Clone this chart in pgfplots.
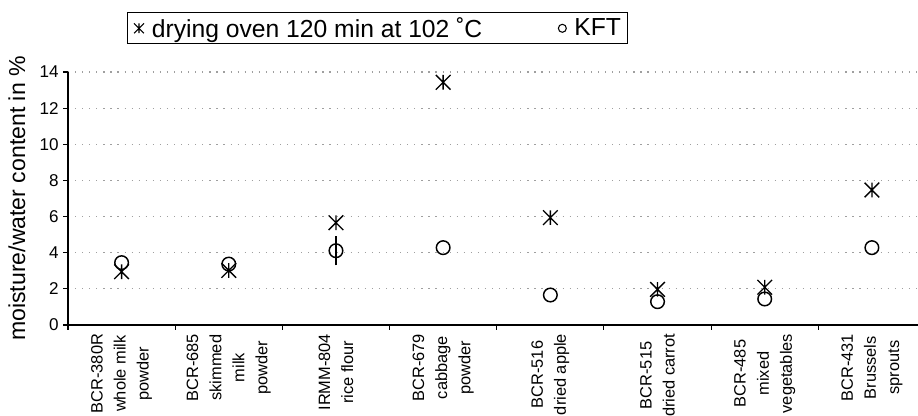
\documentclass[border=0pt]{standalone}
\usepackage{fontspec}
\setmainfont{Liberation Sans}
\usepackage{pgfplots}
\usepackage{pgfplotstable}
\pgfplotsset{compat=1.18}
\pgfdeclareplotmark{xstar}{%
  \pgfpathmoveto{\pgfqpoint{0pt}{-\pgfplotmarksize}}%
  \pgfpathlineto{\pgfqpoint{0pt}{\pgfplotmarksize}}%
  \pgfpathmoveto{\pgfqpoint{-\pgfplotmarksize}{-\pgfplotmarksize}}%
  \pgfpathlineto{\pgfqpoint{\pgfplotmarksize}{\pgfplotmarksize}}%
  \pgfpathmoveto{\pgfqpoint{-\pgfplotmarksize}{\pgfplotmarksize}}%
  \pgfpathlineto{\pgfqpoint{\pgfplotmarksize}{-\pgfplotmarksize}}%
  \pgfusepathqstroke}
\pgfplotstableread{
x oven kft
0 2.95 3.45
1 3.02 3.37
2 5.66 4.11
3 13.43 4.28
4 5.94 1.66
5 1.97 1.29
6 2.09 1.44
7 7.47 4.28
}\datatab
\begin{document}
\begin{tikzpicture}
\begin{axis}[
  at={(51pt,68.25pt)}, anchor=south west,
  scale only axis, width=637.5pt, height=189.75pt,
  xmin=-0.5, xmax=7.43, ymin=0, ymax=14,
  axis x line*=bottom, axis y line*=left,
  axis line style={-, line width=0.9pt},
  xtick={-0.5,0.5,...,6.5}, xticklabels={},
  extra x ticks={0,1,2,3,4,5,6,7},
  extra x tick labels={{BCR-380R\\whole milk\\powder},{BCR-685\\skimmed\\milk\\powder},{IRMM-804\\rice flour},{BCR-679\\cabbage\\powder},{BCR-516\\dried apple},{BCR-515\\dried carrot},{BCR-485\\mixed\\vegetables},{BCR-431\\Brussels\\sprouts}},
  extra x tick style={major tick length=0pt},
  xticklabel style={rotate=90, anchor=east, align=center, font=\fontsize{12.3}{17.3}\selectfont, inner xsep=6.5pt, inner ysep=1pt},
  ytick={0,2,...,14},
  yticklabel style={font=\fontsize{12.8}{14}\selectfont},
  /pgf/number format/assume math mode=true,
  tick align=outside, major tick length=3.5pt,
  tick style={black, line width=0.8pt},
  ymajorgrids, grid style={dash pattern=on 0.9pt off 4.4pt, gray!75, line width=0.9pt},
  ylabel={moisture/water content in \%},
  ylabel style={at={(axis description cs:-0.06,0.5)}, anchor=center, font=\fontsize{17.3}{20}\selectfont},
  legend columns=2,
  legend style={at={(axis description cs:0.3641,1.1727)}, anchor=center, draw=black, line width=0.8pt,
    font=\fontsize{18.5}{20}\selectfont, inner xsep=5pt, inner ysep=3.3pt,
    nodes={inner sep=0pt},
    /tikz/every odd column/.append style={column sep=6pt},
    /tikz/every even column/.append style={column sep=57pt}},
]
\addplot[only marks, black, mark=xstar, mark size=5.5pt, line width=1pt,
  legend image code/.code={\draw[mark size=3.7pt, line width=0.8pt] plot coordinates {(0pt,0pt)};}]
  table[x=x, y=oven] {\datatab};
\addlegendentry{drying oven 120 min at 102 ˚C}
\addplot[only marks, black, mark=o, mark size=5.1pt, line width=1.1pt,
  legend image code/.code={\draw[mark size=3pt, line width=0.8pt] plot coordinates {(0pt,0pt)};}]
  table[x=x, y=kft] {\datatab};
\addlegendentry{KFT}
\addplot[forget plot, black, mark=none, line width=1pt,
  error bars/.cd, y dir=both, y explicit,
  error bar style={line width=1pt},
  error mark options={black, mark size=3.5pt, line width=1pt}]
  coordinates {(2,4.11) +- (0,0.55)};
\end{axis}
\pgfresetboundingbox
\useasboundingbox (0,0) rectangle (688.5pt,312pt);
\end{tikzpicture}
\end{document}
